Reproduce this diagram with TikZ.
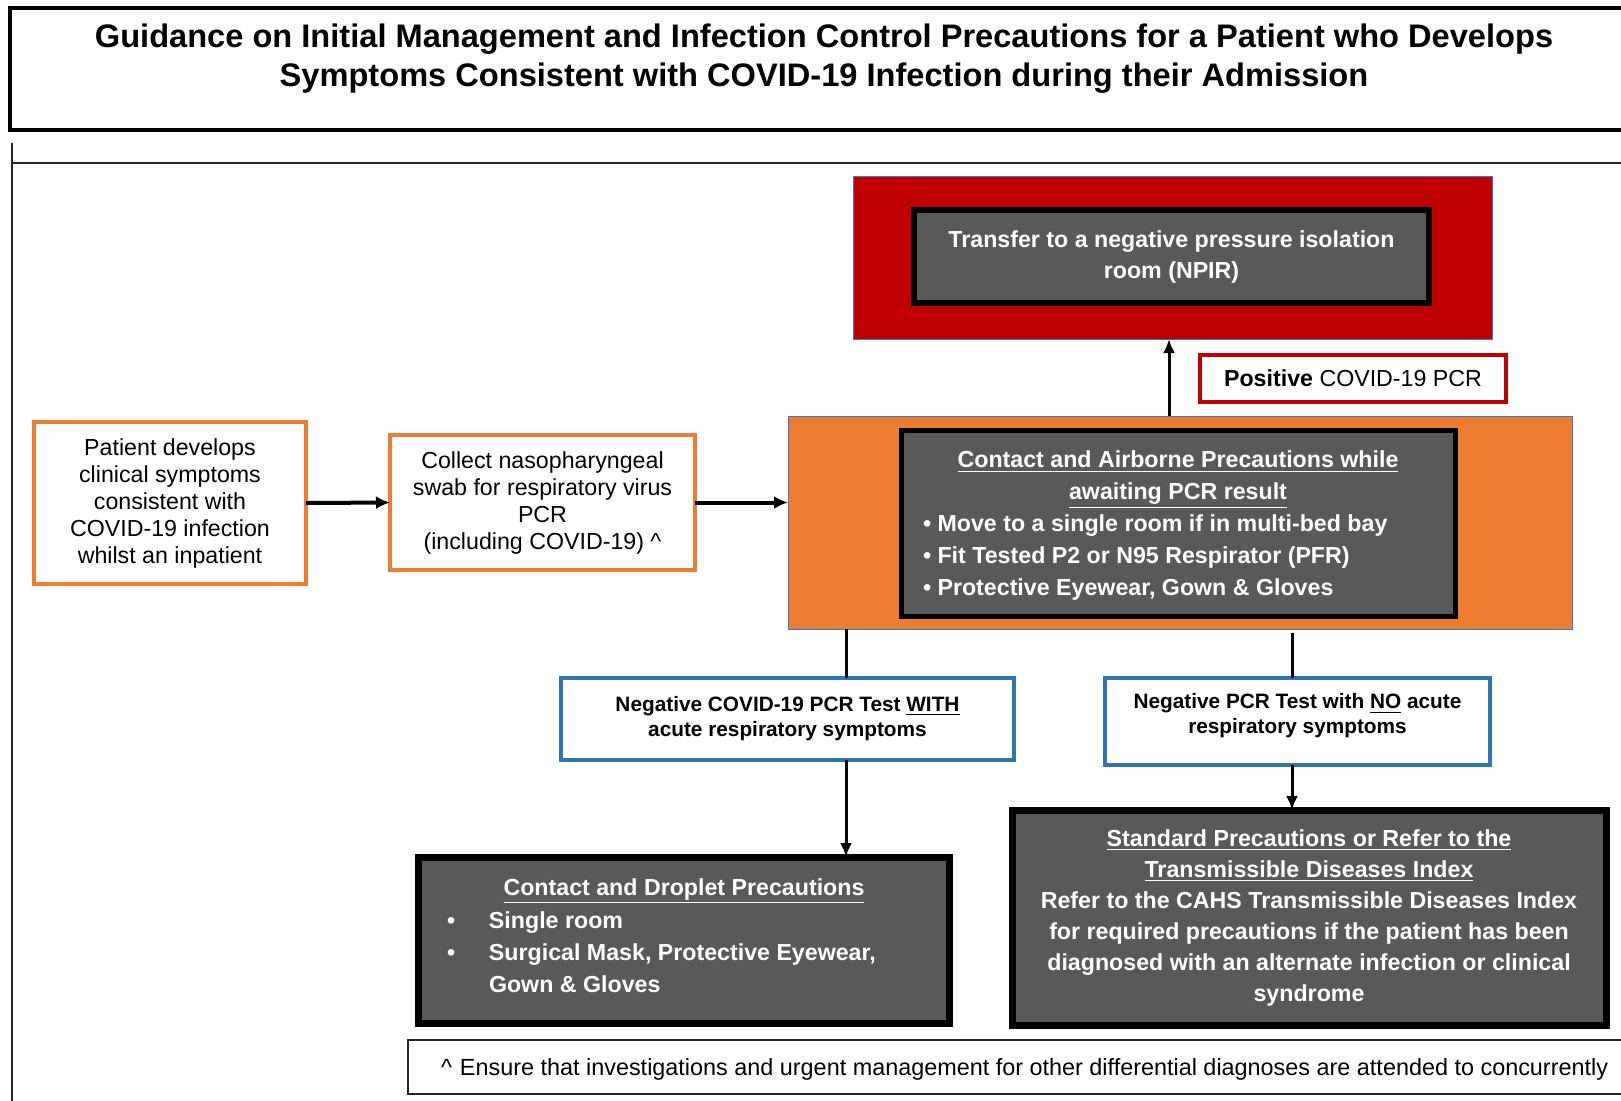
\documentclass[tikz,border=0pt]{standalone}
\usepackage{fontspec}
\setmainfont{Liberation Sans}
\usetikzlibrary{arrows.meta}
\definecolor{cred}{HTML}{C00000}
\definecolor{corange}{HTML}{ED7D31}
\definecolor{cdark}{HTML}{595959}
\definecolor{cblue}{HTML}{2E75B6}
\definecolor{cthin}{HTML}{4472C4}
\tikzset{
  every node/.style={inner sep=0pt, outer sep=0pt},
  outerbox/.style={draw=cthin, line width=0.5pt},
  darkbox/.style={draw=black, fill=cdark, line width=2.8pt, text=white,
    font=\bfseries\fontsize{11.6}{15.5}\selectfont, align=center},
  darktext/.style={text=white, font=\bfseries\fontsize{11.6}{16}\selectfont, align=center},
  obox/.style={draw=corange, fill=white, line width=2pt,
    font=\fontsize{11.6}{13.5}\selectfont, align=center},
  bbox/.style={draw=cblue, fill=white, line width=2.4pt,
    font=\bfseries\fontsize{10.4}{12.5}\selectfont, align=center},
  btext/.style={font=\bfseries\fontsize{10.4}{12.5}\selectfont, align=center},
  posbox/.style={draw=cred, fill=white, line width=2pt,
    font=\fontsize{11.6}{14}\selectfont},
  conn/.style={line width=1.5pt},
  arr/.style={line width=1.5pt, -{Latex[length=7pt,width=6pt]}},
  arrthick/.style={line width=2pt, -{Latex[length=7pt,width=6.5pt]}}
}
\begin{document}
\begin{tikzpicture}[x=0.5pt,y=-0.5pt]
\useasboundingbox (0,0) rectangle (1621,1100);
\clip (0,0) rectangle (1621,1100);
\fill[white] (0,0) rectangle (1621,1100);

% title
\draw[line width=2pt] (10,8) rectangle (1640,130);
\node[font=\bfseries\fontsize{16.3}{19.5}\selectfont, align=center] (title) at (824,58.5)
  {Guidance on Initial Management and Infection Control Precautions for a Patient who Develops\\
   Symptoms Consistent with COVID-19 Infection during their Admission};

% frame lines
\draw[line width=0.9pt, black!85] (12,163) -- (1640,163);
\draw[line width=0.9pt, black!85] (12,143) -- (12,1110);

% NPIR
\node[outerbox, fill=cred, minimum width=319.5pt, minimum height=81.5pt] (red) at (1172.5,257.5) {};
\node[darkbox, minimum width=257.5pt, minimum height=46.5pt] (npir) at (1171.5,256.5)
  {Transfer to a negative pressure isolation\\room (NPIR)};

% positive label
\node[posbox, minimum width=153pt, minimum height=23.5pt] (pos) at (1353,378.5)
  {\textbf{Positive} COVID-19 PCR};

% orange airborne
\node[outerbox, fill=corange, minimum width=392pt, minimum height=106.5pt] (orange) at (1180,522.5) {};
\node[darkbox, line width=2.5pt, minimum width=277pt, minimum height=93pt] (cap) at (1178,523) {};
\node[darktext] (capt) at (1178,480)
  {\underline{Contact and Airborne Precautions while}\\\underline{awaiting PCR result}};
\node[darktext, align=left, anchor=west] (capb) at (923,557)
  {• Move to a single room if in multi-bed bay\\
   • Fit Tested P2 or N95 Respirator (PFR)\\
   • Protective Eyewear, Gown \& Gloves};

% left boxes
\node[obox, minimum width=136pt, minimum height=81pt] (pat) at (170,503)
  {Patient develops\\clinical symptoms\\consistent with\\COVID-19 infection\\whilst an inpatient};
\node[obox, minimum width=152.5pt, minimum height=67.5pt] (col) at (542.5,502.5)
  {Collect nasopharyngeal\\swab for respiratory virus\\PCR\\(including COVID-19) \textasciicircum};

% blue boxes
\node[bbox, minimum width=226.5pt, minimum height=41pt] (neg1) at (787.5,719)
  {Negative COVID-19 PCR Test \underline{WITH}\\acute respiratory symptoms};
\node[bbox, minimum width=192.5pt, minimum height=43.5pt] (neg2) at (1297.5,721.5) {};
\node[btext] (neg2t) at (1297.5,716)
  {Negative PCR Test with \underline{NO} acute\\respiratory symptoms};

% bottom boxes
\node[darkbox, line width=3.5pt, minimum width=265.5pt, minimum height=83pt] (drop) at (683.5,940) {};
\node[darktext] (dropt) at (684,891) {\underline{Contact and Droplet Precautions}};
\node[darktext, align=left, anchor=west] (dropb) at (447,954)
  {\begin{tabular}{@{}l@{}l@{}}
   \makebox[21pt][l]{•} & Single room\\
   \makebox[21pt][l]{•} & Surgical Mask, Protective Eyewear,\\
   & Gown \& Gloves
   \end{tabular}};
\node[darkbox, line width=3.5pt, minimum width=297pt, minimum height=107.5pt] (std) at (1309,917.5)
  {\underline{Standard Precautions or Refer to the}\\
   \underline{Transmissible Diseases Index}\\
   Refer to the CAHS Transmissible Diseases Index\\
   for required precautions if the patient has been\\
   diagnosed with an alternate infection or clinical\\
   syndrome};

% footnote
\draw[line width=1pt, black!85] (408,1040) rectangle (1640,1094);
\node[anchor=west, font=\fontsize{11.7}{14}\selectfont] (fn) at (441,1069)
  {\textasciicircum\hspace{4pt}Ensure that investigations and urgent management for other differential diagnoses are attended to concurrently};

% connectors
\coordinate (cu) at (1169,0);
\coordinate (cl) at (846,0);
\coordinate (cr) at (1292,0);
\draw[arr] (orange.north -| cu) -- (red.south -| cu);
\draw[arrthick] (pat.east) -- (col.west);
\draw[arrthick] (col.east) -- (col.east -| orange.west);
\draw[conn] (orange.south -| cl) -- (neg1.north -| cl);
\draw[conn] ([yshift=-2pt]orange.south -| cr) -- (neg2.north -| cr);
\draw[arr] (neg1.south -| cl) -- (drop.north -| cl);
\draw[arr] (neg2.south -| cr) -- (std.north -| cr);
\end{tikzpicture}
\end{document}
